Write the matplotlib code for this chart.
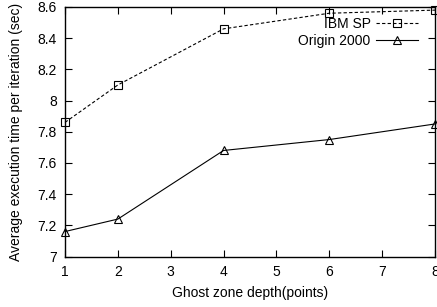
import matplotlib
matplotlib.use("Agg")
import matplotlib.pyplot as plt

plt.rcParams['font.family'] = ['Liberation Sans', 'DejaVu Sans']

depth = [1, 2, 4, 6, 8]
ibm_sp = [7.86, 8.10, 8.46, 8.56, 8.58]
origin = [7.16, 7.24, 7.68, 7.75, 7.85]

fig = plt.figure(figsize=(4.37, 3.07), dpi=100)
ax = fig.add_axes([65 / 437, 1 - 256.5 / 307, 370 / 437, 249.5 / 307])

ax.plot(depth, ibm_sp, color='black', linestyle=(0, (3, 2)), linewidth=0.8,
        marker='s', markersize=5.5, markerfacecolor='none', markeredgewidth=0.8,
        label='IBM SP', clip_on=False)
ax.plot(depth, origin, color='black', linestyle='-', linewidth=0.8,
        marker='^', markersize=5.5, markerfacecolor='none', markeredgewidth=0.8,
        label='Origin 2000', clip_on=False)

ax.set_xlim(1, 8)
ax.set_ylim(7, 8.6)
ax.set_xticks(range(1, 9))
ax.set_yticks([7, 7.2, 7.4, 7.6, 7.8, 8, 8.2, 8.4, 8.6])
ax.set_yticklabels(['7', '7.2', '7.4', '7.6', '7.8', '8', '8.2', '8.4', '8.6'])
ax.tick_params(direction='in', top=True, right=True, length=5, width=0.8,
               labelsize=10, pad=6)
for s in ax.spines.values():
    s.set_linewidth(1)

ax.set_xlabel('Ghost zone depth(points)', fontsize=10, labelpad=5)
ax.set_ylabel('Average execution time per iteration (sec)', fontsize=10, labelpad=10)

leg = ax.legend(loc='upper right', bbox_to_anchor=(0.98, 1.0), frameon=False,
                markerfirst=False, fontsize=10, handlelength=3.0,
                borderpad=0.2, labelspacing=0.2, handletextpad=0.4)

fig.savefig('out.png', dpi=100)
